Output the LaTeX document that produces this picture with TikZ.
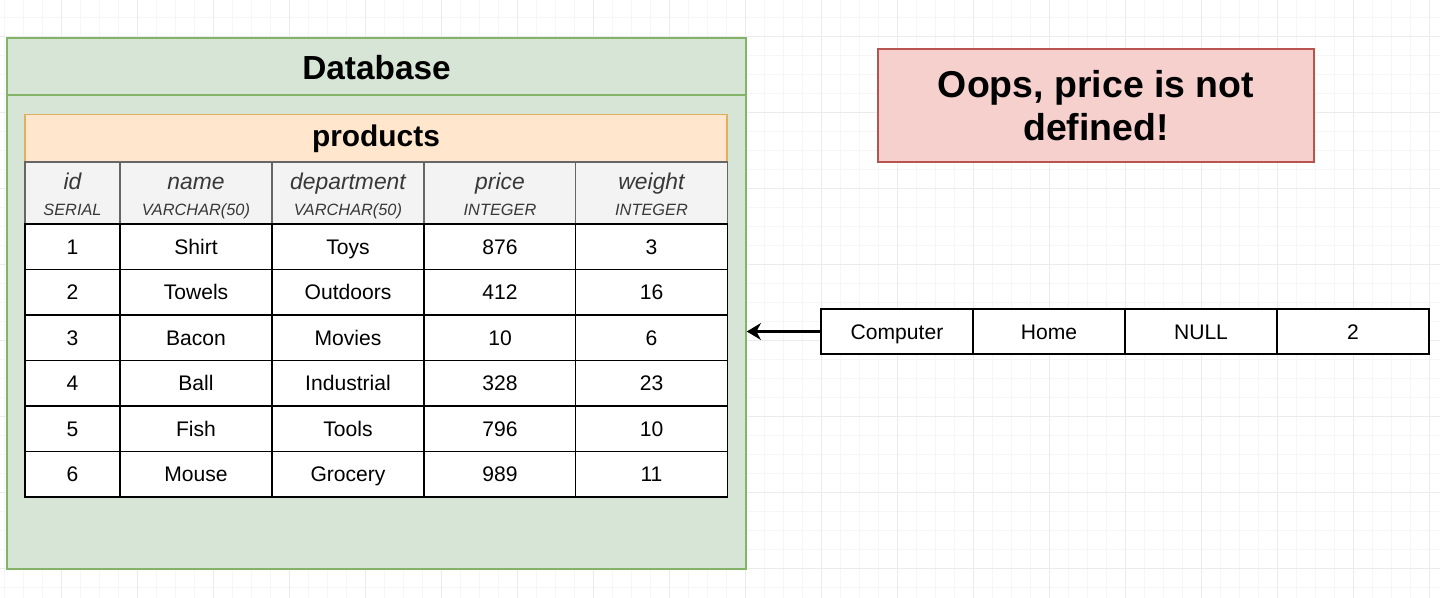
\documentclass[tikz,border=0pt]{standalone}
\usepackage{fontspec}
\setmainfont{Liberation Sans}
\usepackage{xcolor}
\usetikzlibrary{positioning,calc,arrows.meta}

\definecolor{dbgreen}{HTML}{D6E5D5}
\definecolor{dbgreenline}{HTML}{82B366}
\definecolor{tblorange}{HTML}{FFE6CC}
\definecolor{tblorangeline}{HTML}{E0B060}
\definecolor{hdrgray}{HTML}{F3F3F3}
\definecolor{hdrline}{HTML}{666666}
\definecolor{oopsred}{HTML}{F5D0CD}
\definecolor{oopsline}{HTML}{B85450}
\definecolor{gridminor}{HTML}{F6F6F6}
\definecolor{gridmajor}{HTML}{EBEBEB}

\tikzset{
    cell/.style={draw=black, line width=1.1pt, fill=white, minimum height=0.91cm,
        inner sep=0pt, text height=8.6pt, text depth=0pt, font=\fontsize{12}{14}\selectfont},
    headcell/.style={draw=hdrline, line width=0.8pt, fill=hdrgray, minimum height=1.24cm,
        inner sep=0pt, align=center, text=black!78},
    box/.style={line width=0.9pt, inner sep=0pt},
}

\begin{document}
\begin{tikzpicture}
    \useasboundingbox (0,0) rectangle (28.8,-11.96);
    \fill[white] (0,0) rectangle (28.8,-11.96);

    % Grid
    \begin{scope}
        \clip (0,0) rectangle (28.8,-11.96);
        \begin{scope}[shift={(0.086,-0.354)}]
            \draw[gridminor, line width=0.6pt, step=0.38] (-1,-13) grid (30,1);
        \end{scope}
        \begin{scope}[shift={(1.226,-0.734)}]
            \draw[gridmajor, line width=0.7pt, step=1.52] (-2,-13) grid (30,1);
        \end{scope}
    \end{scope}

    % Database
    \node[box, draw=dbgreenline, fill=dbgreen, minimum width=14.78cm, minimum height=10.62cm]
        (db) at (7.53,-6.07) {};
    \draw[dbgreenline, line width=0.9pt] (db.west |- 0,-1.9) coordinate (dbsep) -- (db.east |- dbsep);
    \node[font=\fontsize{19}{22}\bfseries] (dbtitle) at (7.53,-1.36) {Database};

    % Table
    \node[box, draw=tblorangeline, fill=tblorange, minimum width=14.04cm, minimum height=0.98cm,
        font=\fontsize{17}{20}\bfseries] (products) at (7.52,-2.78) {products};
    \foreach \n/\t [count=\c] in {id/SERIAL, name/VARCHAR(50), department/VARCHAR(50),
                                   price/INTEGER, weight/INTEGER} {
        \pgfmathsetmacro{\cx}{{1.45,3.92,6.96,10.0,13.03}[\c-1]}
        \pgfmathsetmacro{\cw}{\c==1 ? 1.9 : 3.04}
        \node[headcell, minimum width=\cw cm] (hd\c) at (\cx,-3.86)
            {{\fontsize{13}{15}\selectfont\itshape\rule{0pt}{13pt}\vphantom{p}\n}\\[3pt]%
             {\fontsize{9.3}{11}\selectfont\itshape\vphantom{A(}\t}};
    }
    \foreach \r/\vals in {1/{1,Shirt,Toys,876,3}, 2/{2,Towels,Outdoors,412,16},
                          3/{3,Bacon,Movies,10,6}, 4/{4,Ball,Industrial,328,23},
                          5/{5,Fish,Tools,796,10}, 6/{6,Mouse,Grocery,989,11}} {
        \pgfmathsetmacro{\cy}{-4.48-0.91*(\r-0.5)}
        \foreach \v [count=\c] in \vals {
            \pgfmathsetmacro{\cx}{{1.45,3.92,6.96,10.0,13.03}[\c-1]}
            \pgfmathsetmacro{\cw}{\c==1 ? 1.9 : 3.04}
            \node[cell, minimum width=\cw cm] (r\r-c\c) at (\cx,\cy) {\v};
        }
    }

    % New row
    \foreach \v [count=\c] in {Computer, Home, NULL, 2} {
        \pgfmathsetmacro{\cx}{17.94+3.04*(\c-1)}
        \node[cell, minimum width=3.04cm, minimum height=0.9cm] (n\c) at (\cx,-6.63) {\v};
    }
    \draw[line width=1.4pt, -{Stealth[length=8pt, width=9.5pt, inset=2.5pt]}]
        (n1.west) -- (n1.west -| db.east);

    % Error
    \node[box, draw=oopsline, fill=oopsred, minimum width=8.72cm, minimum height=2.26cm,
        align=center, font=\fontsize{21.3}{24.4}\bfseries] (oops) at (21.92,-2.11)
        {Oops, price is not\\defined!};
\end{tikzpicture}
\end{document}
